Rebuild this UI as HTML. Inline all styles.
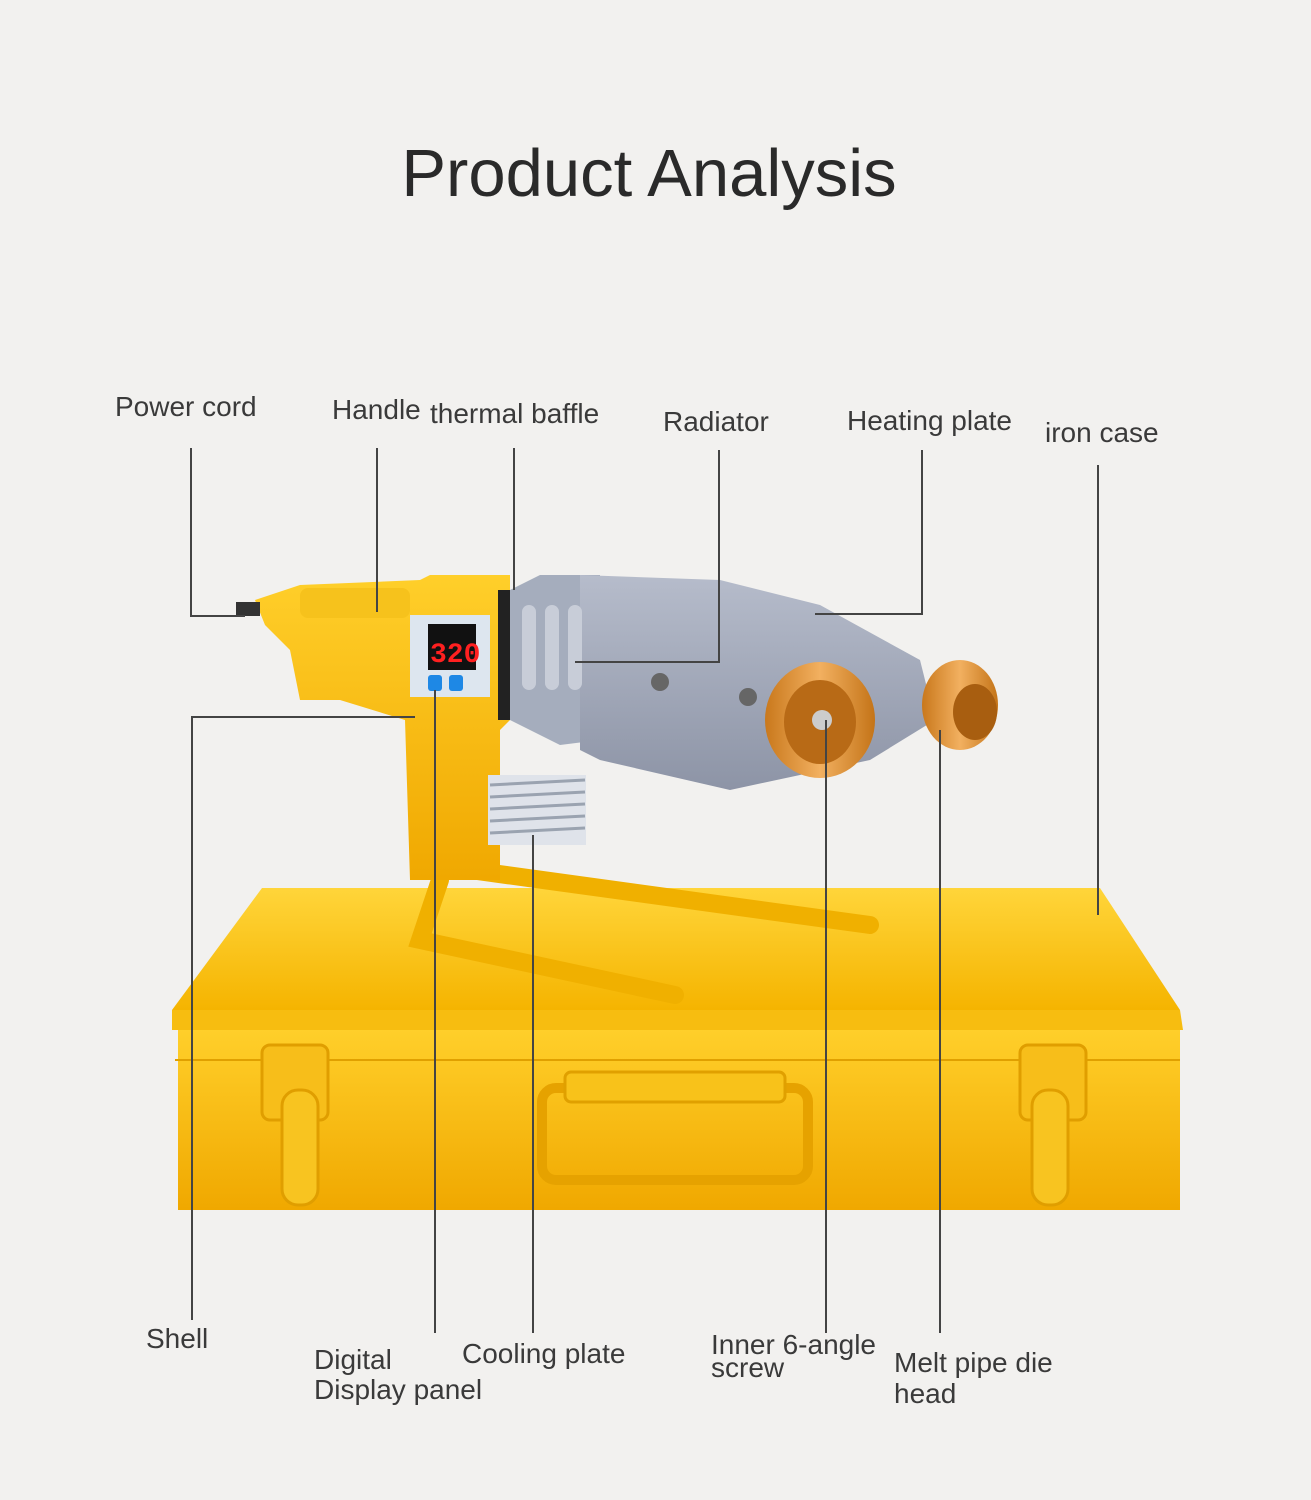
<!DOCTYPE html>
<html><head><meta charset="utf-8"><style>
html,body{margin:0;padding:0;background:#f2f1ef;}
body{width:1311px;height:1500px;position:relative;overflow:hidden;font-family:"Liberation Sans",sans-serif;}
.t{position:absolute;color:#3a3a3a;font-size:28px;line-height:28px;white-space:nowrap;}
</style></head><body>
<svg width="1311" height="1500" style="position:absolute;left:0;top:0">
<defs>
<linearGradient id="yl" x1="0" y1="0" x2="0" y2="1"><stop offset="0" stop-color="#ffcf2a"/><stop offset="1" stop-color="#f0a800"/></linearGradient>
<linearGradient id="lid" x1="0" y1="0" x2="0" y2="1"><stop offset="0" stop-color="#ffd53a"/><stop offset="1" stop-color="#f5b400"/></linearGradient>
<linearGradient id="gr" x1="0" y1="0" x2="0" y2="1"><stop offset="0" stop-color="#b6bccb"/><stop offset="1" stop-color="#8d94a6"/></linearGradient>
<linearGradient id="cu" x1="0" y1="0" x2="1" y2="0"><stop offset="0" stop-color="#c9781c"/><stop offset=".5" stop-color="#f2b060"/><stop offset="1" stop-color="#c47418"/></linearGradient>
</defs>
<path d="M262 888 L1100 888 L1180 1010 L172 1010 Z" fill="url(#lid)"/>
<path d="M172 1010 L1180 1010 L1183 1030 L172 1030Z" fill="#f7bd10"/>
<rect x="178" y="1030" width="1002" height="180" fill="url(#yl)"/>
<line x1="175" y1="1060" x2="1180" y2="1060" stroke="#e0a000" stroke-width="2"/>
<rect x="542" y="1088" width="266" height="92" rx="14" fill="none" stroke="#e6a200" stroke-width="10"/>
<rect x="565" y="1072" width="220" height="30" rx="6" fill="#f8c21a" stroke="#e0a000" stroke-width="3"/>
<rect x="262" y="1045" width="66" height="75" rx="8" fill="#f7be1a" stroke="#e09e00" stroke-width="3"/>
<rect x="282" y="1090" width="36" height="115" rx="16" fill="#f8c420" stroke="#e09e00" stroke-width="3"/>
<rect x="1020" y="1045" width="66" height="75" rx="8" fill="#f7be1a" stroke="#e09e00" stroke-width="3"/>
<rect x="1032" y="1090" width="36" height="115" rx="16" fill="#f8c420" stroke="#e09e00" stroke-width="3"/>
<path d="M440 880 L420 940 L675 995" fill="none" stroke="#f0b000" stroke-width="18" stroke-linecap="round"/>
<path d="M470 870 L870 925" fill="none" stroke="#f0b000" stroke-width="18" stroke-linecap="round"/>
<path d="M255 600 L300 585 L420 580 L430 575 L510 575 L510 720 L500 730 L500 880 L410 880 L405 720 L340 700 L300 700 L290 650 L265 625 Z" fill="url(#yl)"/>
<rect x="300" y="588" width="110" height="30" rx="8" fill="#f6c21c"/>
<rect x="236" y="602" width="24" height="14" fill="#333"/>
<rect x="410" y="615" width="80" height="82" fill="#dde6ef"/>
<rect x="428" y="624" width="48" height="46" fill="#111"/>
<text x="430" y="662" font-family="Liberation Mono" font-size="28" fill="#ff2020" font-weight="bold">320</text>
<rect x="428" y="675" width="14" height="16" rx="3" fill="#1e88e5"/><rect x="449" y="675" width="14" height="16" rx="3" fill="#1e88e5"/>
<rect x="488" y="775" width="98" height="70" fill="#dfe3ea"/>
<g stroke="#9aa3b0" stroke-width="3"><line x1="490" y1="785" x2="585" y2="780"/><line x1="490" y1="797" x2="585" y2="792"/><line x1="490" y1="809" x2="585" y2="804"/><line x1="490" y1="821" x2="585" y2="816"/><line x1="490" y1="833" x2="585" y2="828"/></g>
<rect x="498" y="590" width="20" height="130" fill="#222"/>
<path d="M510 590 L540 575 L600 575 L600 740 L560 745 L510 720Z" fill="#a5adbd"/>
<path d="M580 575 L720 580 L820 605 L920 660 L935 720 L870 760 L730 790 L600 760 L580 750Z" fill="url(#gr)"/>
<circle cx="660" cy="682" r="9" fill="#666"/><circle cx="748" cy="697" r="9" fill="#666"/>
<g fill="#c8cdd8"><rect x="522" y="605" width="14" height="85" rx="7"/><rect x="545" y="605" width="14" height="85" rx="7"/><rect x="568" y="605" width="14" height="85" rx="7"/></g>
<ellipse cx="960" cy="705" rx="38" ry="45" fill="url(#cu)"/>
<ellipse cx="975" cy="712" rx="22" ry="28" fill="#a85e10"/>
<ellipse cx="820" cy="720" rx="55" ry="58" fill="url(#cu)"/>
<ellipse cx="820" cy="722" rx="36" ry="42" fill="#b86a16"/>
<circle cx="822" cy="720" r="10" fill="#ccc"/>
<g stroke="#444" stroke-width="2" fill="none">
<path d="M191 448 V616 H245"/>
<path d="M377 448 V612"/>
<path d="M514 448 V590"/>
<path d="M719 450 V662 H575"/>
<path d="M922 450 V614 H815"/>
<path d="M1098 465 V915"/>
<path d="M192 1320 V717 H415"/>
<path d="M435 1333 V690"/>
<path d="M533 1333 V835"/>
<path d="M826 1333 V720"/>
<path d="M940 1333 V730"/>
</g>
</svg>
<div class="t" style="left:0;width:1298px;text-align:center;top:138px;font-size:67px;line-height:72px;color:#2a2a2a">Product Analysis</div>
<div class="t" style="left:115px;top:393px">Power cord</div>
<div class="t" style="left:332px;top:396px">Handle</div>
<div class="t" style="left:430px;top:400px">thermal baffle</div>
<div class="t" style="left:663px;top:408px">Radiator</div>
<div class="t" style="left:847px;top:407px">Heating plate</div>
<div class="t" style="left:1045px;top:419px">iron case</div>
<div class="t" style="left:146px;top:1325px">Shell</div>
<div class="t" style="left:314px;top:1345px;line-height:30px">Digital<br>Display panel</div>
<div class="t" style="left:462px;top:1340px">Cooling plate</div>
<div class="t" style="left:711px;top:1333px;line-height:23px">Inner 6-angle<br>screw</div>
<div class="t" style="left:894px;top:1347px;line-height:31px">Melt pipe die<br>head</div>
</body></html>
